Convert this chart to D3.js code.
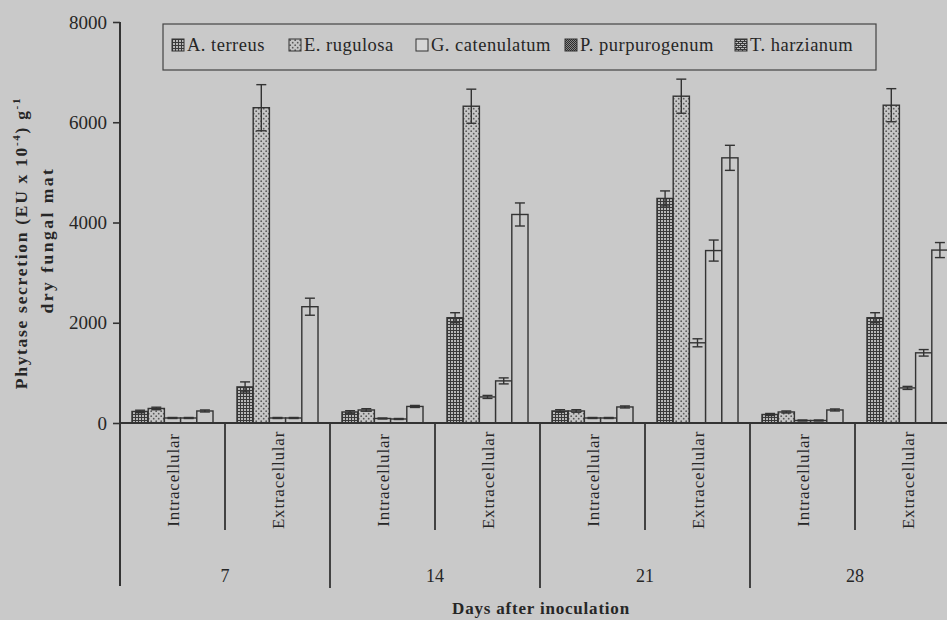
<!DOCTYPE html>
<html><head><meta charset="utf-8">
<script src="https://cdn.jsdelivr.net/npm/d3@7"></script>
<style>body{margin:0;background:#c9c9c9;} svg{display:block}</style>
</head><body>
<svg id="c" width="947" height="620"></svg>
<script>
const days = ["7", "14", "21", "28"];
const locations = ["Intracellular", "Extracellular"];
const species = ["A. terreus", "E. rugulosa", "G. catenulatum", "P. purpurogenum", "T. harzianum"];
const yTicks = [0, 2000, 4000, 6000, 8000];
// order: 7-Intra, 7-Extra, 14-Intra, 14-Extra, 21-Intra, 21-Extra, 28-Intra, 28-Extra
const aTerreus      = [230, 720, 220, 2100, 240, 4480, 170, 2100];
const eRugulosa     = [290, 6290, 260, 6320, 240, 6520, 220, 6340];
const gCatenulatum  = [100, 100, 90, 520, 100, 1600, 50, 700];
const pPurpurogenum = [100, 100, 80, 840, 100, 3440, 50, 1400];
const tHarzianum    = [240, 2320, 330, 4160, 320, 5290, 260, 3450];
const aTerreusErr      = [25, 100, 25, 100, 25, 150, 20, 100];
const eRugulosaErr     = [25, 460, 25, 340, 25, 340, 20, 330];
const gCatenulatumErr  = [10, 10, 10, 30, 10, 80, 10, 30];
const pPurpurogenumErr = [10, 10, 10, 60, 10, 210, 10, 65];
const tHarzianumErr    = [20, 170, 20, 230, 20, 250, 20, 150];

const seriesVals = [aTerreus, eRugulosa, gCatenulatum, pPurpurogenum, tHarzianum];
const seriesErrs = [aTerreusErr, eRugulosaErr, gCatenulatumErr, pPurpurogenumErr, tHarzianumErr];

const BG = "#c9c9c9", INK = "#333", TXT = "#262626";
const svg = d3.select("#c");
svg.append("rect").attr("width", 947).attr("height", 620).attr("fill", BG);

// patterns
const defs = svg.append("defs");
const pA = defs.append("pattern").attr("id", "pA").attr("patternUnits", "userSpaceOnUse").attr("width", 3).attr("height", 3);
pA.append("rect").attr("width", 3).attr("height", 3).attr("fill", "#b8b8b8");
pA.append("path").attr("d", "M0,0.5H3M0.5,0V3").attr("stroke", "#3a3a3a").attr("stroke-width", 1);
const pE = defs.append("pattern").attr("id", "pE").attr("patternUnits", "userSpaceOnUse").attr("width", 5).attr("height", 5);
pE.append("rect").attr("width", 5).attr("height", 5).attr("fill", "#c6c6c6");
pE.append("circle").attr("cx", 1.2).attr("cy", 1.2).attr("r", 0.9).attr("fill", "#5a5a5a");
pE.append("circle").attr("cx", 3.7).attr("cy", 3.7).attr("r", 0.9).attr("fill", "#5a5a5a");
const pP = defs.append("pattern").attr("id", "pP").attr("patternUnits", "userSpaceOnUse").attr("width", 2).attr("height", 2);
pP.append("rect").attr("width", 2).attr("height", 2).attr("fill", "#888");
pP.append("rect").attr("width", 1).attr("height", 1).attr("fill", "#2a2a2a");
pP.append("rect").attr("x", 1).attr("y", 1).attr("width", 1).attr("height", 1).attr("fill", "#2a2a2a");
const pT = defs.append("pattern").attr("id", "pT").attr("patternUnits", "userSpaceOnUse").attr("width", 4).attr("height", 4);
pT.append("rect").attr("width", 4).attr("height", 4).attr("fill", "#bbb");
pT.append("path").attr("d", "M0,0.5H4M0,2.5H4M1.5,0.5V2.5M3.5,2.5V4.5").attr("stroke", "#3a3a3a").attr("stroke-width", 1);

const barFill = ["url(#pA)", "url(#pE)", BG, BG, BG];
const legFill = ["url(#pA)", "url(#pE)", "#d6d6d6", "url(#pP)", "url(#pT)"];

const y = d3.scaleLinear().domain([0, 8000]).range([423, 22]);
const xDay = d3.scaleBand().domain(days).range([120, 960]);
const xLoc = d3.scaleBand().domain(locations).range([0, xDay.bandwidth()]);
const xSp = d3.scaleBand().domain(species).range([0, xLoc.bandwidth()]).paddingInner(0).paddingOuter(0.74);

const font = "'Liberation Serif', 'Times New Roman', serif";

// bars
const data = [];
days.forEach((d, di) => locations.forEach((l, li) => species.forEach((s, si) => {
  const k = di * 2 + li;
  data.push({d, l, s, si, v: seriesVals[si][k], e: seriesErrs[si][k]});
})));
const g = svg.append("g");
g.selectAll("rect.bar").data(data).join("rect").attr("class", "bar")
  .attr("x", p => xDay(p.d) + xLoc(p.l) + xSp(p.s))
  .attr("y", p => y(p.v))
  .attr("width", xSp.bandwidth())
  .attr("height", p => y(0) - y(p.v))
  .attr("fill", p => barFill[p.si])
  .attr("stroke", INK).attr("stroke-width", 1.4);

// error bars
const eb = g.selectAll("g.err").data(data).join("g").attr("class", "err")
  .attr("transform", p => `translate(${xDay(p.d) + xLoc(p.l) + xSp(p.s) + xSp.bandwidth() / 2},0)`);
eb.append("line").attr("y1", p => y(p.v + p.e)).attr("y2", p => y(p.v - p.e)).attr("stroke", INK).attr("stroke-width", 1.4);
eb.append("line").attr("x1", -5).attr("x2", 5).attr("y1", p => y(p.v + p.e)).attr("y2", p => y(p.v + p.e)).attr("stroke", INK).attr("stroke-width", 1.4);
eb.append("line").attr("x1", -5).attr("x2", 5).attr("y1", p => y(p.v - p.e)).attr("y2", p => y(p.v - p.e)).attr("stroke", INK).attr("stroke-width", 1.4);

// y axis
const ya = svg.append("g").attr("transform", "translate(120,0)")
  .call(d3.axisLeft(y).tickValues(yTicks).tickSize(7).tickPadding(6).tickFormat(d3.format("d")));
ya.select(".domain").remove();
ya.selectAll("line").attr("stroke", INK).attr("stroke-width", 1.6);
ya.selectAll("text").attr("font-family", font).attr("font-size", 19).attr("fill", TXT);
svg.append("line").attr("x1", 120).attr("x2", 120).attr("y1", 22).attr("y2", 586).attr("stroke", INK).attr("stroke-width", 2);

// x axis baseline
svg.append("line").attr("x1", 120).attr("x2", 960).attr("y1", y(0)).attr("y2", y(0)).attr("stroke", INK).attr("stroke-width", 2);

// separators
days.forEach(d => {
  svg.append("line").attr("x1", xDay(d) + xLoc.bandwidth()).attr("x2", xDay(d) + xLoc.bandwidth())
    .attr("y1", y(0)).attr("y2", 530).attr("stroke", INK).attr("stroke-width", 1.8);
  svg.append("line").attr("x1", xDay(d) + xDay.bandwidth()).attr("x2", xDay(d) + xDay.bandwidth())
    .attr("y1", y(0)).attr("y2", 588).attr("stroke", INK).attr("stroke-width", 1.8);
  locations.forEach(l => {
    svg.append("text").attr("transform", `translate(${xDay(d) + xLoc(l) + xLoc.bandwidth() / 2 + 6},480) rotate(-90)`)
      .attr("text-anchor", "middle").attr("font-family", font).attr("font-size", 17).attr("letter-spacing", 0.8)
      .attr("fill", TXT).text(l);
  });
  svg.append("text").attr("x", xDay(d) + xDay.bandwidth() / 2).attr("y", 582).attr("text-anchor", "middle")
    .attr("font-family", font).attr("font-size", 18).attr("fill", TXT).text(d);
});

// axis titles
svg.append("text").attr("x", 541).attr("y", 614).attr("text-anchor", "middle").attr("font-family", font)
  .attr("font-size", 17).attr("font-weight", "bold").attr("letter-spacing", 0.8).attr("fill", TXT).text("Days after inoculation");
const yt = svg.append("text").attr("transform", "translate(27,243) rotate(-90)").attr("text-anchor", "middle")
  .attr("font-family", font).attr("font-size", 17.5).attr("font-weight", "bold").attr("letter-spacing", 1.7).attr("fill", TXT);
yt.append("tspan").text("Phytase secretion (EU x 10");
yt.append("tspan").attr("dy", -7).attr("font-size", 11).text("-4");
yt.append("tspan").attr("dy", 7).text(") g");
yt.append("tspan").attr("dy", -7).attr("font-size", 11).text("-1");
svg.append("text").attr("transform", "translate(53,240) rotate(-90)").attr("text-anchor", "middle")
  .attr("font-family", font).attr("font-size", 17.5).attr("font-weight", "bold").attr("letter-spacing", 2.5).attr("fill", TXT).text("dry fungal mat");

// legend
svg.append("rect").attr("x", 163).attr("y", 24).attr("width", 713).attr("height", 46).attr("fill", "none").attr("stroke", "#444").attr("stroke-width", 1.2);
const legX = [172, 289, 416, 565, 735];
const lg = svg.selectAll("g.leg").data(species).join("g").attr("class", "leg")
  .attr("transform", (s, i) => `translate(${legX[i]},39)`);
lg.append("rect").attr("width", 12).attr("height", 12).attr("fill", (s, i) => legFill[i]).attr("stroke", INK).attr("stroke-width", 1);
lg.append("text").attr("x", 15).attr("y", 12).attr("font-family", font).attr("font-size", 18.5).attr("letter-spacing", 0.5).attr("fill", TXT).text(s => s);
</script>
</body></html>
